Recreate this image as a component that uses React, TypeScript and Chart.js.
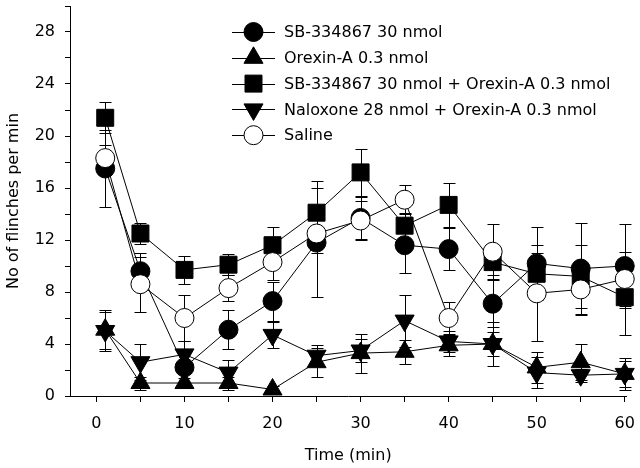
import React, { useEffect, useRef } from "react";
import { Chart, registerables } from "chart.js";
import { drawPoint } from "chart.js/helpers";

Chart.register(...registerables);

// ---- data ----
const times = [1, 5, 10, 15, 20, 25, 30, 35, 40, 45, 50, 55, 60];

const sbLabel = "SB-334867 30 nmol";
const sb = [17.5, 9.6, 2.2, 5.1, 7.3, 11.8, 13.7, 11.6, 11.3, 7.1, 10.2, 9.8, 10.0];
const sbErr = [3.0, 1.4, 1.2, 1.5, 1.5, 4.2, 1.6, 2.1, 1.6, 1.8, 2.8, 3.5, 3.2];

const orexinLabel = "Orexin-A 0.3 nmol";
const orexin = [5.1, 1.0, 1.0, 1.0, 0.5, 2.6, 3.3, 3.4, 3.9, 4.0, 2.2, 2.6, 1.7];
const orexinErr = [1.5, 0.5, 0.4, 0.5, 0.3, 1.1, 1.5, 0.9, 0.8, 0.9, 1.2, 1.4, 1.2];

const sbOrexinLabel = "SB-334867 30 nmol + Orexin-A 0.3 nmol";
const sbOrexin = [21.4, 12.5, 9.7, 10.1, 11.6, 14.1, 17.2, 13.1, 14.7, 10.3, 9.4, 9.2, 7.6];
const sbOrexinErr = [1.2, 0.8, 1.1, 0.8, 1.4, 2.4, 1.8, 1.0, 1.7, 1.0, 1.6, 2.4, 2.9];

const naloxoneLabel = "Naloxone 28 nmol + Orexin-A 0.3 nmol";
const naloxone = [5.0, 2.6, 3.2, 1.8, 4.7, 3.1, 3.5, 5.8, 4.2, 4.0, 1.8, 1.6, 1.7];
const naloxoneErr = [1.5, 1.4, 1.0, 1.0, 1.0, 0.8, 0.9, 2.0, 0.8, 1.7, 1.2, 0.5, 1.0];

const salineLabel = "Saline";
const saline = [18.3, 8.6, 6.0, 8.3, 10.3, 12.5, 13.5, 15.1, 6.0, 11.1, 7.9, 8.2, 9.0];
const salineErr = [1.0, 2.1, 1.8, 1.0, 1.4, 1.5, 1.5, 1.1, 1.2, 2.1, 3.7, 2.0, 2.1];

const xTickValues = [0, 5, 10, 15, 20, 25, 30, 35, 40, 45, 50, 55, 60];
const yTickValues = [0, 2, 4, 6, 8, 10, 12, 14, 16, 18, 20, 22, 24, 26, 28, 30];

const xTitle = "Time (min)";
const yTitle = "No of flinches per min";

const FONT = "'DejaVu Sans', sans-serif";

const errorSets = [sbErr, orexinErr, sbOrexinErr, naloxoneErr, salineErr];

const errorBarPlugin = {
  id: "errorBars",
  beforeDatasetsDraw(chart: any) {
    const { ctx } = chart;
    const x = chart.scales.x;
    const y = chart.scales.y;
    ctx.save();
    ctx.strokeStyle = "#000";
    ctx.lineWidth = 1;
    chart.data.datasets.forEach((ds: any, di: number) => {
      const errs = errorSets[di];
      ds.data.forEach((p: any, i: number) => {
        const e = errs[i];
        const px = Math.round(x.getPixelForValue(p.x)) + 0.5;
        const yTop = Math.round(y.getPixelForValue(p.y + e)) + 0.5;
        const yBot = Math.round(y.getPixelForValue(Math.max(0, p.y - e))) + 0.5;
        ctx.beginPath();
        ctx.moveTo(px, yTop);
        ctx.lineTo(px, yBot);
        ctx.moveTo(px - 6, yTop);
        ctx.lineTo(px + 6, yTop);
        ctx.moveTo(px - 6, yBot);
        ctx.lineTo(px + 6, yBot);
        ctx.stroke();
      });
    });
    ctx.restore();
  },
};

const legendPlugin = {
  id: "insideLegend",
  afterDraw(chart: any) {
    const { ctx } = chart;
    const y0 = 32;
    const step = 25.8;
    const lx0 = 232;
    const lx1 = 275;
    const tx = 284;
    ctx.save();
    chart.data.datasets.forEach((ds: any, i: number) => {
      const cy = y0 + i * step;
      ctx.strokeStyle = "#000";
      ctx.lineWidth = 1;
      ctx.beginPath();
      ctx.moveTo(lx0, Math.round(cy) + 0.5);
      ctx.lineTo(lx1, Math.round(cy) + 0.5);
      ctx.stroke();
      ctx.fillStyle = ds.pointBackgroundColor;
      ctx.strokeStyle = "#000";
      drawPoint(
        ctx,
        {
          pointStyle: ds.pointStyle,
          radius: ds.pointRadius,
          rotation: ds.pointRotation || 0,
          borderWidth: 1,
        } as any,
        (lx0 + lx1) / 2,
        cy
      );
      ctx.fillStyle = "#000";
      ctx.font = `16px ${FONT}`;
      ctx.textAlign = "left";
      ctx.textBaseline = "middle";
      ctx.fillText(ds.label, tx, cy + 1);
    });
    ctx.restore();
  },
};

function series(label: string, values: number[], style: any, order: number) {
  return {
    label,
    data: times.map((t, i) => ({ x: t, y: values[i] })),
    borderColor: "#000",
    borderWidth: 1,
    tension: 0,
    pointBorderColor: "#000",
    pointBorderWidth: 1,
    pointHoverRadius: style.pointRadius,
    clip: false as any,
    order,
    ...style,
  };
}

export default function App() {
  const canvasRef = useRef<HTMLCanvasElement>(null);

  useEffect(() => {
    if (!canvasRef.current) return;
    const chart = new Chart(canvasRef.current, {
      type: "line",
      data: {
        datasets: [
          series(sbLabel, sb, { pointStyle: "circle", pointRadius: 9.5, pointBackgroundColor: "#000" }, 4),
          series(orexinLabel, orexin, { pointStyle: "triangle", pointRadius: 11, pointBackgroundColor: "#000" }, 3),
          series(sbOrexinLabel, sbOrexin, { pointStyle: "rect", pointRadius: 12, pointBackgroundColor: "#000" }, 2),
          series(naloxoneLabel, naloxone, { pointStyle: "triangle", pointRotation: 180, pointRadius: 11, pointBackgroundColor: "#000" }, 1),
          series(salineLabel, saline, { pointStyle: "circle", pointRadius: 9.5, pointBackgroundColor: "#fff" }, 0),
        ] as any,
      },
      options: {
        responsive: false,
        animation: false,
        devicePixelRatio: 1,
        layout: { autoPadding: false, padding: { top: 6, right: 13.5, bottom: 0, left: 0 } },
        plugins: {
          legend: { display: false },
          tooltip: { enabled: false },
        },
        scales: {
          x: {
            type: "linear",
            min: -3,
            max: 60.2,
            afterBuildTicks: (s: any) => {
              s.ticks = xTickValues.map((v) => ({ value: v }));
            },
            afterFit: (s: any) => {
              s.height = 72;
              s.paddingLeft = 0;
              s.paddingRight = 0;
            },
            ticks: {
              autoSkip: false,
              maxRotation: 0,
              padding: 12,
              color: "#000",
              font: { family: FONT, size: 16 },
              callback: (v: any) => (Number(v) % 10 === 0 ? String(v) : ""),
            },
            grid: {
              display: true,
              drawOnChartArea: false,
              drawTicks: true,
              tickLength: 6,
              color: "#000",
              tickColor: "#000",
            },
            border: { display: true, color: "#000", width: 1 },
            title: {
              display: true,
              text: xTitle,
              color: "#000",
              font: { family: FONT, size: 16 },
              padding: { top: 0, bottom: 3 },
            },
          },
          y: {
            type: "linear",
            min: 0,
            max: 30,
            afterBuildTicks: (s: any) => {
              s.ticks = yTickValues.map((v) => ({ value: v }));
            },
            afterFit: (s: any) => {
              s.width = 70;
              s.paddingTop = 0;
              s.paddingBottom = 0;
            },
            ticks: {
              autoSkip: false,
              padding: 10,
              color: "#000",
              font: { family: FONT, size: 16 },
              callback: (v: any) => (Number(v) % 4 === 0 && Number(v) < 30 ? String(v) : ""),
            },
            grid: {
              display: true,
              drawOnChartArea: false,
              drawTicks: true,
              tickLength: 5,
              color: "#000",
              tickColor: "#000",
            },
            border: { display: true, color: "#000", width: 1 },
            title: {
              display: true,
              text: yTitle,
              color: "#000",
              font: { family: FONT, size: 16 },
              padding: { top: 4, bottom: 0 },
            },
          },
        },
      } as any,
      plugins: [errorBarPlugin, legendPlugin],
    });
    return () => chart.destroy();
  }, []);

  return (
    <div style={{ position: "absolute", left: 0, top: 0, width: 640, height: 468, background: "#fff" }}>
      <canvas ref={canvasRef} width={640} height={468} style={{ display: "block" }} />
    </div>
  );
}
